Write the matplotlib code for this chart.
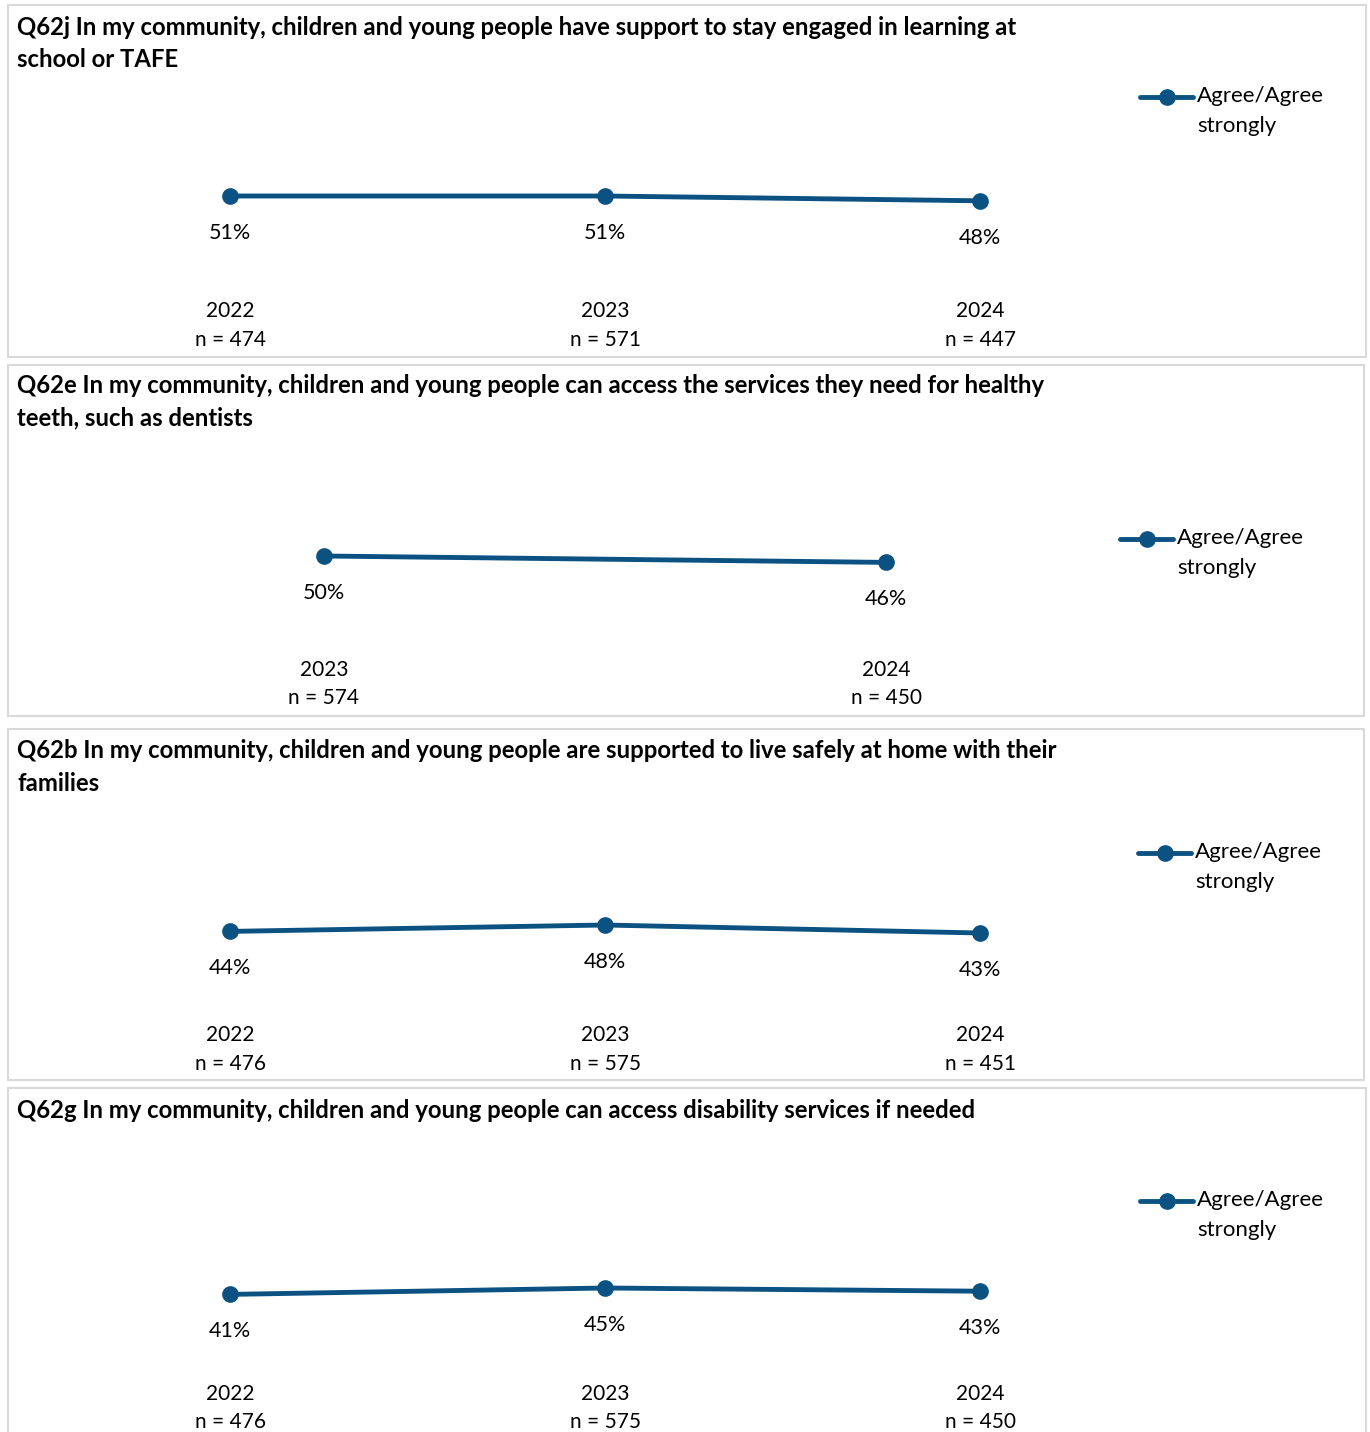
import matplotlib
matplotlib.use("Agg")
from matplotlib import pyplot as plt
from matplotlib.patches import Rectangle

plt.rcParams['font.family'] = ['Lato', 'DejaVu Sans']

# --- data ---
titles = [
    "Q62j In my community, children and young people have support to stay engaged in learning at\nschool or TAFE",
    "Q62e In my community, children and young people can access the services they need for healthy\nteeth, such as dentists",
    "Q62b In my community, children and young people are supported to live safely at home with their\nfamilies",
    "Q62g In my community, children and young people can access disability services if needed",
]
years_j = [2022, 2023, 2024]
n_j = [474, 571, 447]
agree_j = [51, 51, 48]

years_e = [2023, 2024]
n_e = [574, 450]
agree_e = [50, 46]

years_b = [2022, 2023, 2024]
n_b = [476, 575, 451]
agree_b = [44, 48, 43]

years_g = [2022, 2023, 2024]
n_g = [476, 575, 450]
agree_g = [41, 45, 43]

series_label = "Agree/Agree\nstrongly"
line_color = '#0b5282'
border_color = '#d9d9d9'

W, H = 1370, 1432
fig = plt.figure(figsize=(W / 100, H / 100), dpi=100)


def fx(px):
    return px / W


def fy(py):
    return 1 - py / H


# panel layout in pixels: box (left, top, right, bottom), axis bottom, legend (x, y), title centre
panels = [
    (titles[0], years_j, n_j, agree_j, (8, 5, 1366, 357), 277.6, (1140, 95), 43.5),
    (titles[1], years_e, n_e, agree_e, (8, 365, 1364, 716), 636.0, (1120, 537), 402),
    (titles[2], years_b, n_b, agree_b, (8, 729, 1364, 1080), 1001.8, (1138, 851), 767),
    (titles[3], years_g, n_g, agree_g, (8, 1088, 1366, 1440), 1360.0, (1140, 1199), 1110),
]

for title, years, ns, vals, box, y0, leg, ty in panels:
    l, t, r, b = box
    fig.patches.append(Rectangle((fx(l), fy(b)), fx(r - l), (b - t) / H,
                                 transform=fig.transFigure, fill=False,
                                 edgecolor=border_color, linewidth=1.5))
    fig.text(fx(17), fy(ty), title, fontsize=17.2, fontweight='bold',
             va='center', ha='left', linespacing=1.5, color='black')

    ax = fig.add_axes([fx(42.5), fy(y0), fx(1125), 160 / H])
    x = list(range(len(years)))
    ln, = ax.plot(x, vals, color=line_color, lw=3.5, marker='o', markersize=11,
                  solid_capstyle='round', label=series_label)
    for xi, v in zip(x, vals):
        ax.annotate(f"{v}%", (xi, v), xytext=(0, -26.5), textcoords='offset points',
                    ha='center', va='center', fontsize=15.5)
    ax.set_xlim(-0.5, len(years) - 0.5)
    ax.set_ylim(0, 100)
    ax.set_xticks(x)
    ax.set_xticklabels([f"{yr}\nn = {n}" for yr, n in zip(years, ns)],
                       fontsize=15, linespacing=1.55)
    ax.tick_params(axis='x', length=0, pad=17)
    ax.set_yticks([])
    for s in ax.spines.values():
        s.set_visible(False)
    ax.patch.set_alpha(0)
    lg = ax.legend(handles=[ln], loc='upper left', frameon=False, fontsize=16,
                   handlelength=2.4, handletextpad=0.18, handleheight=5.0,
                   borderpad=0, borderaxespad=0,
                   bbox_to_anchor=(fx(leg[0]), fy(leg[1] - 20)),
                   bbox_transform=fig.transFigure)
    for txt in lg.get_texts():
        txt.set_linespacing(1.65)

fig.savefig("out.png", dpi=100)
